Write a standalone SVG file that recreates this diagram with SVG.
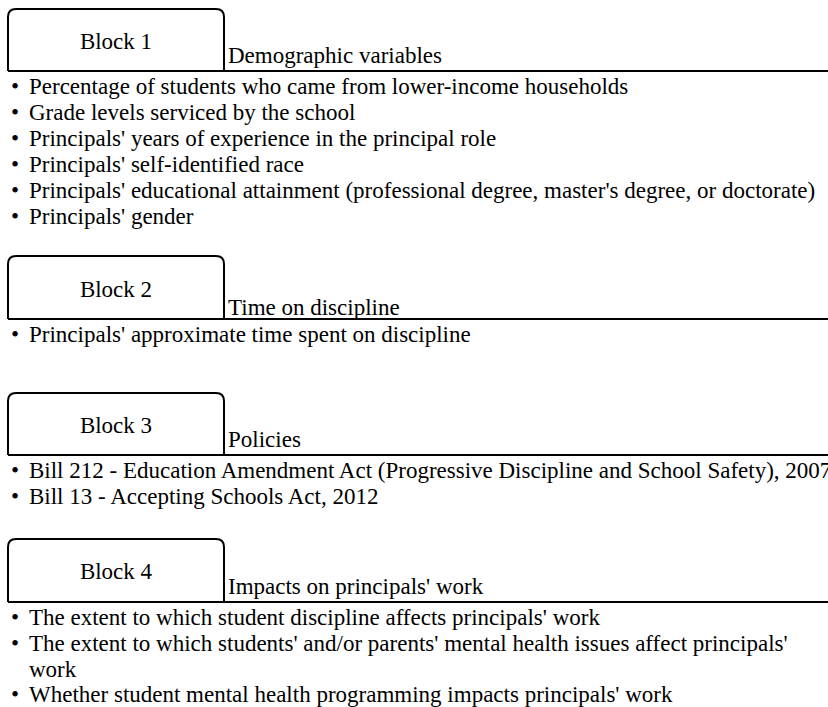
<svg xmlns="http://www.w3.org/2000/svg" width="828" height="707" viewBox="0 0 828 707">
<style>
text{font-family:"Liberation Serif","Times New Roman",serif;font-size:23px;fill:#000}
.lbl{text-anchor:middle}
.box{fill:none;stroke:#000;stroke-width:2}
</style>
<rect width="828" height="707" fill="#fff"/>
<g id="block1">
<path class="box" d="M8,71 V17 Q8,9 16,9 H216 Q224,9 224,17 V71 M8,71 H828"/>
<text class="lbl" x="116" y="49">Block 1</text>
<text x="228" y="63">Demographic variables</text>
<text x="11" y="94">•</text><text x="29" y="94">Percentage of students who came from lower-income households</text>
<text x="11" y="120">•</text><text x="29" y="120">Grade levels serviced by the school</text>
<text x="11" y="146">•</text><text x="29" y="146">Principals' years of experience in the principal role</text>
<text x="11" y="172">•</text><text x="29" y="172">Principals' self-identified race</text>
<text x="11" y="198">•</text><text x="29" y="198">Principals' educational attainment (professional degree, master's degree, or doctorate)</text>
<text x="11" y="224">•</text><text x="29" y="224">Principals' gender</text>
</g>
<g id="block2">
<path class="box" d="M8,319 V264 Q8,256 16,256 H216 Q224,256 224,264 V319 M8,319 H828"/>
<text class="lbl" x="116" y="297">Block 2</text>
<text x="228" y="315">Time on discipline</text>
<text x="11" y="342">•</text><text x="29" y="342">Principals' approximate time spent on discipline</text>
</g>
<g id="block3">
<path class="box" d="M8,455 V401 Q8,393 16,393 H216 Q224,393 224,401 V455 M8,455 H828"/>
<text class="lbl" x="116" y="433">Block 3</text>
<text x="228" y="447">Policies</text>
<text x="11" y="478">•</text><text x="29" y="478">Bill 212 - Education Amendment Act (Progressive Discipline and School Safety), 2007</text>
<text x="11" y="504">•</text><text x="29" y="504">Bill 13 - Accepting Schools Act, 2012</text>
</g>
<g id="block4">
<path class="box" d="M8,602 V547 Q8,539 16,539 H216 Q224,539 224,547 V602 M8,602 H828"/>
<text class="lbl" x="116" y="579">Block 4</text>
<text x="228" y="594">Impacts on principals' work</text>
<text x="11" y="625">•</text><text x="29" y="625">The extent to which student discipline affects principals' work</text>
<text x="11" y="651">•</text><text x="29" y="651">The extent to which students' and/or parents' mental health issues affect principals'</text>
<text x="29" y="677">work</text>
<text x="11" y="702">•</text><text x="29" y="702">Whether student mental health programming impacts principals' work</text>
</g>
<g id="connectors"/>
</svg>
